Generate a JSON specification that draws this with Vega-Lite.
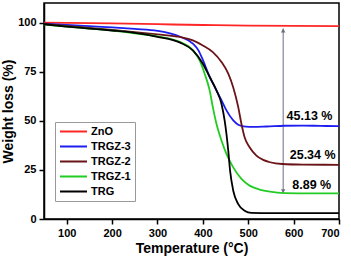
{
  "$schema": "https://vega.github.io/schema/vega-lite/v6.json",
  "width": 295,
  "height": 216,
  "autosize": {"type": "none"},
  "padding": {"left": 44, "top": 3, "right": 12, "bottom": 40},
  "background": "white",
  "config": {
    "font": "Liberation Sans",
    "view": {"stroke": "black", "strokeWidth": 1.5},
    "axis": {
      "domainColor": "black", "domainWidth": 1.5, "tickColor": "black", "tickWidth": 1.5, "tickSize": 5,
      "labelFont": "Liberation Sans", "labelFontWeight": "bold", "labelFontSize": 11, "labelColor": "black",
      "titleFont": "Liberation Sans", "titleFontWeight": "bold", "titleFontSize": 14, "titleColor": "black",
      "grid": false
    }
  },
  "datasets": {
    "curves": [
      {"s": "ZnO", "t": 50, "w": 100}, {"s": "ZnO", "t": 200, "w": 99.6}, {"s": "ZnO", "t": 300, "w": 99.2}, {"s": "ZnO", "t": 400, "w": 98.8}, {"s": "ZnO", "t": 500, "w": 98.5}, {"s": "ZnO", "t": 600, "w": 98.3}, {"s": "ZnO", "t": 700, "w": 98.2},
      {"s": "TRGZ-3", "t": 50, "w": 99.5}, {"s": "TRGZ-3", "t": 100, "w": 98.8}, {"s": "TRGZ-3", "t": 150, "w": 98.2}, {"s": "TRGZ-3", "t": 200, "w": 97.6}, {"s": "TRGZ-3", "t": 250, "w": 96.8}, {"s": "TRGZ-3", "t": 300, "w": 95.8}, {"s": "TRGZ-3", "t": 350, "w": 92.8}, {"s": "TRGZ-3", "t": 378, "w": 89.3}, {"s": "TRGZ-3", "t": 390, "w": 86}, {"s": "TRGZ-3", "t": 400, "w": 81}, {"s": "TRGZ-3", "t": 415, "w": 72.5}, {"s": "TRGZ-3", "t": 430, "w": 65.5}, {"s": "TRGZ-3", "t": 441, "w": 60.5}, {"s": "TRGZ-3", "t": 452, "w": 55.3}, {"s": "TRGZ-3", "t": 467, "w": 50.2}, {"s": "TRGZ-3", "t": 478, "w": 48}, {"s": "TRGZ-3", "t": 485, "w": 47.4}, {"s": "TRGZ-3", "t": 495, "w": 47.0}, {"s": "TRGZ-3", "t": 510, "w": 46.9}, {"s": "TRGZ-3", "t": 540, "w": 47.1}, {"s": "TRGZ-3", "t": 580, "w": 47.5}, {"s": "TRGZ-3", "t": 620, "w": 47.6}, {"s": "TRGZ-3", "t": 660, "w": 47.4}, {"s": "TRGZ-3", "t": 700, "w": 47.3},
      {"s": "TRGZ-2", "t": 50, "w": 99.3}, {"s": "TRGZ-2", "t": 100, "w": 98.3}, {"s": "TRGZ-2", "t": 150, "w": 97.3}, {"s": "TRGZ-2", "t": 200, "w": 96.3}, {"s": "TRGZ-2", "t": 250, "w": 95.2}, {"s": "TRGZ-2", "t": 300, "w": 94}, {"s": "TRGZ-2", "t": 350, "w": 92.7}, {"s": "TRGZ-2", "t": 378, "w": 91}, {"s": "TRGZ-2", "t": 400, "w": 88.4}, {"s": "TRGZ-2", "t": 422, "w": 85}, {"s": "TRGZ-2", "t": 441, "w": 80}, {"s": "TRGZ-2", "t": 456, "w": 74}, {"s": "TRGZ-2", "t": 467, "w": 67}, {"s": "TRGZ-2", "t": 478, "w": 57}, {"s": "TRGZ-2", "t": 485, "w": 48.5}, {"s": "TRGZ-2", "t": 492, "w": 41.6}, {"s": "TRGZ-2", "t": 503, "w": 36.5}, {"s": "TRGZ-2", "t": 518, "w": 32.3}, {"s": "TRGZ-2", "t": 533, "w": 30.1}, {"s": "TRGZ-2", "t": 548, "w": 28.9}, {"s": "TRGZ-2", "t": 575, "w": 28}, {"s": "TRGZ-2", "t": 620, "w": 27.7}, {"s": "TRGZ-2", "t": 700, "w": 27.6},
      {"s": "TRGZ-1", "t": 50, "w": 99.0}, {"s": "TRGZ-1", "t": 100, "w": 98}, {"s": "TRGZ-1", "t": 150, "w": 97}, {"s": "TRGZ-1", "t": 200, "w": 96}, {"s": "TRGZ-1", "t": 250, "w": 94.6}, {"s": "TRGZ-1", "t": 300, "w": 93}, {"s": "TRGZ-1", "t": 350, "w": 90.1}, {"s": "TRGZ-1", "t": 378, "w": 85.9}, {"s": "TRGZ-1", "t": 393, "w": 80.8}, {"s": "TRGZ-1", "t": 404, "w": 74}, {"s": "TRGZ-1", "t": 415, "w": 65.5}, {"s": "TRGZ-1", "t": 422, "w": 57}, {"s": "TRGZ-1", "t": 430, "w": 48.5}, {"s": "TRGZ-1", "t": 441, "w": 40}, {"s": "TRGZ-1", "t": 452, "w": 33.2}, {"s": "TRGZ-1", "t": 467, "w": 26.3}, {"s": "TRGZ-1", "t": 485, "w": 20.4}, {"s": "TRGZ-1", "t": 503, "w": 17}, {"s": "TRGZ-1", "t": 525, "w": 15}, {"s": "TRGZ-1", "t": 548, "w": 13.9}, {"s": "TRGZ-1", "t": 580, "w": 13.2}, {"s": "TRGZ-1", "t": 640, "w": 13}, {"s": "TRGZ-1", "t": 700, "w": 13},
      {"s": "TRG", "t": 50, "w": 99.2}, {"s": "TRG", "t": 100, "w": 98}, {"s": "TRG", "t": 150, "w": 97}, {"s": "TRG", "t": 200, "w": 96}, {"s": "TRG", "t": 250, "w": 94.8}, {"s": "TRG", "t": 300, "w": 92.8}, {"s": "TRG", "t": 350, "w": 89.8}, {"s": "TRG", "t": 378, "w": 85.9}, {"s": "TRG", "t": 400, "w": 79.1}, {"s": "TRG", "t": 415, "w": 72.3}, {"s": "TRG", "t": 430, "w": 65.5}, {"s": "TRG", "t": 441, "w": 58.7}, {"s": "TRG", "t": 448, "w": 50.2}, {"s": "TRG", "t": 456, "w": 34.8}, {"s": "TRG", "t": 460, "w": 24.6}, {"s": "TRG", "t": 467, "w": 14.4}, {"s": "TRG", "t": 478, "w": 7.6}, {"s": "TRG", "t": 492, "w": 4.2}, {"s": "TRG", "t": 507, "w": 3.1}, {"s": "TRG", "t": 550, "w": 3}, {"s": "TRG", "t": 700, "w": 3}
    ],
    "arrow": [{"t": 577, "top": 97, "bottom": 13.2}],
    "labels": [
      {"t": 635, "w": 52.2, "txt": "45.13 %"},
      {"t": 642, "w": 32.8, "txt": "25.34 %"},
      {"t": 640, "w": 17.5, "txt": "8.89 %"}
    ]
  },
  "layer": [
    {
      "data": {"name": "arrow"},
      "mark": {"type": "rule", "color": "#6b6f80", "strokeWidth": 1},
      "encoding": {
        "x": {"field": "t", "type": "quantitative"},
        "y": {"field": "top", "type": "quantitative"},
        "y2": {"field": "bottom"}
      }
    },
    {
      "data": {"name": "arrow"},
      "mark": {"type": "point", "shape": "triangle-up", "filled": true, "color": "#6b6f80", "size": 20, "opacity": 1, "yOffset": 2},
      "encoding": {
        "x": {"field": "t", "type": "quantitative"},
        "y": {"field": "top", "type": "quantitative"}
      }
    },
    {
      "data": {"name": "arrow"},
      "mark": {"type": "point", "shape": "triangle-down", "filled": true, "color": "#6b6f80", "size": 20, "opacity": 1, "yOffset": -2},
      "encoding": {
        "x": {"field": "t", "type": "quantitative"},
        "y": {"field": "bottom", "type": "quantitative"}
      }
    },
    {
      "data": {"name": "curves"},
      "mark": {"type": "line", "strokeWidth": 1.8, "interpolate": "monotone", "clip": true},
      "encoding": {
        "x": {"field": "t", "type": "quantitative", "scale": {"domain": [50, 700], "nice": false, "zero": false},
              "axis": {"values": [100, 200, 300, 400, 500, 600, 700], "title": "Temperature (°C)", "titlePadding": 3, "labelPadding": 3}},
        "y": {"field": "w", "type": "quantitative", "scale": {"domain": [0, 110], "nice": false},
              "axis": {"values": [0, 25, 50, 75, 100], "title": "Weight loss (%)", "titlePadding": 2, "labelPadding": 3}},
        "color": {"field": "s", "type": "nominal",
          "scale": {"domain": ["ZnO", "TRGZ-3", "TRGZ-2", "TRGZ-1", "TRG"], "range": ["#ff2626", "#1e1ef0", "#6a1418", "#22cc22", "#000000"]},
          "legend": {"title": null, "orient": "none", "legendX": 11, "legendY": 119, "symbolType": "stroke", "symbolSize": 729, "symbolStrokeWidth": 2, "clipHeight": 11,
                     "labelFont": "Liberation Sans", "labelFontWeight": "bold", "labelFontSize": 11, "labelColor": "black", "labelOffset": 3,
                     "strokeColor": "#999999", "fillColor": "white", "padding": 4, "rowPadding": 3, "symbolOffset": 0}
        },
        "detail": {"field": "s"}
      }
    },
    {
      "data": {"name": "labels"},
      "mark": {"type": "text", "font": "Liberation Sans", "fontWeight": "bold", "fontSize": 12.5, "color": "black", "align": "center", "baseline": "middle"},
      "encoding": {
        "x": {"field": "t", "type": "quantitative"},
        "y": {"field": "w", "type": "quantitative"},
        "text": {"field": "txt"}
      }
    }
  ]
}
